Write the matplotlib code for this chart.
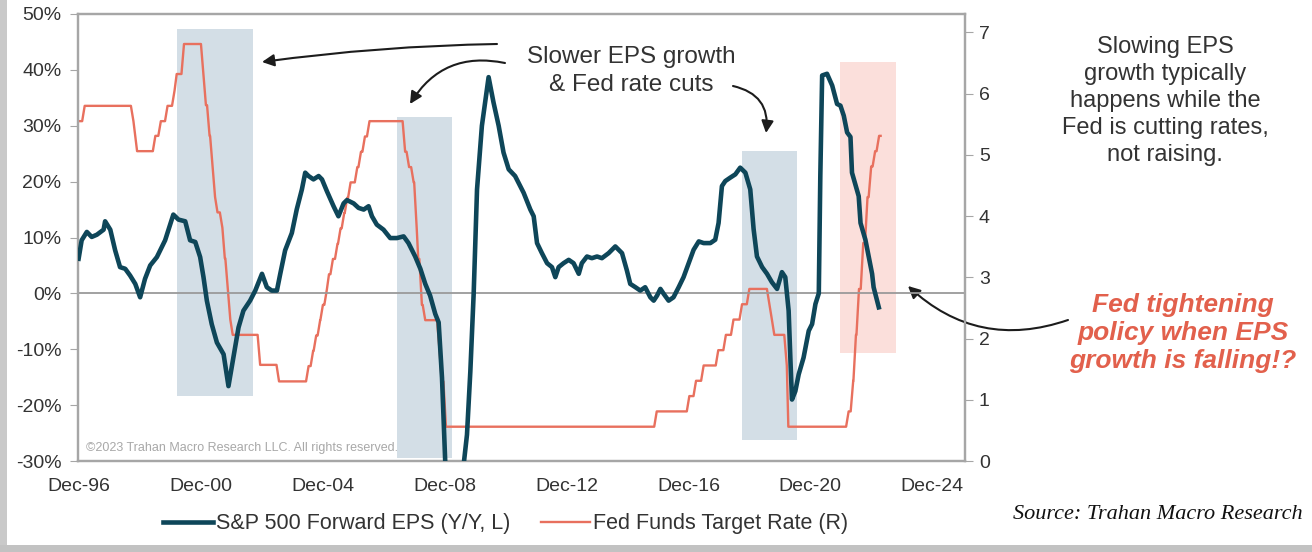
import matplotlib
matplotlib.use("Agg")
import matplotlib.pyplot as plt
from matplotlib.patches import Rectangle, FancyArrowPatch
from matplotlib.lines import Line2D

plt.rcParams["font.family"] = ["Liberation Sans", "DejaVu Sans"]

# S&P 500 forward EPS growth, Y/Y % (left axis), by decimal year
eps_years = [
    1996.90, 1997.00, 1997.17, 1997.33, 1997.50, 1997.72, 1997.77, 1997.94, 1998.10, 1998.26,
    1998.43, 1998.59, 1998.76, 1998.92, 1999.08, 1999.25, 1999.47, 1999.63, 1999.74, 1999.85,
    2000.01, 2000.18, 2000.40, 2000.56, 2000.73, 2000.89, 2001.00, 2001.11, 2001.27, 2001.44,
    2001.66, 2001.82, 2001.98, 2002.15, 2002.31, 2002.53, 2002.70, 2002.92, 2003.08, 2003.24,
    2003.41, 2003.52, 2003.68, 2003.90, 2004.06, 2004.23, 2004.34, 2004.45, 2004.61, 2004.78,
    2004.89, 2005.05, 2005.27, 2005.43, 2005.60, 2005.71, 2005.93, 2006.09, 2006.26, 2006.42,
    2006.53, 2006.69, 2006.91, 2007.13, 2007.35, 2007.57, 2007.73, 2007.95, 2008.12, 2008.28,
    2008.44, 2008.61, 2008.72, 2008.83, 2008.94, 2009.20, 2009.54, 2009.65, 2009.76, 2009.87,
    2009.98, 2010.14, 2010.36, 2010.52, 2010.69, 2010.85, 2011.02, 2011.23, 2011.51, 2011.73,
    2011.84, 2011.95, 2012.11, 2012.28, 2012.44, 2012.55, 2012.66, 2012.82, 2012.99, 2013.15,
    2013.32, 2013.42, 2013.59, 2013.75, 2013.92, 2014.08, 2014.30, 2014.52, 2014.74, 2014.90,
    2015.01, 2015.18, 2015.34, 2015.50, 2015.67, 2015.78, 2015.89, 2016.00, 2016.11, 2016.27,
    2016.43, 2016.60, 2016.76, 2016.93, 2017.09, 2017.26, 2017.42, 2017.64, 2017.80, 2017.91,
    2018.02, 2018.13, 2018.29, 2018.46, 2018.62, 2018.79, 2018.95, 2019.06, 2019.17, 2019.34,
    2019.50, 2019.66, 2019.83, 2019.99, 2020.10, 2020.21, 2020.27, 2020.32, 2020.43, 2020.54,
    2020.70, 2020.87, 2020.98, 2021.09, 2021.20, 2021.25, 2021.31, 2021.47, 2021.64, 2021.80,
    2021.91, 2022.02, 2022.13, 2022.24, 2022.29, 2022.40, 2022.51, 2022.57, 2022.73, 2022.84,
    2022.95, 2023.00, 2023.17,
]
eps_values = [
    6.2, 9.5, 11.0, 10.1, 10.5, 11.4, 12.9, 11.4, 7.7, 4.7,
    4.4, 3.2, 1.7, -0.7, 2.6, 5.0, 6.5, 8.3, 9.5, 11.4,
    14.1, 13.2, 12.9, 9.5, 9.2, 6.5, 2.9, -1.3, -5.5, -8.8,
    -10.9, -16.6, -11.5, -6.1, -3.1, -1.3, 0.5, 3.5, 1.1, 0.5,
    0.5, 3.5, 7.7, 10.8, 15.0, 18.6, 21.6, 21.0, 20.4, 21.0,
    20.4, 18.3, 15.6, 13.8, 16.1, 16.7, 16.1, 15.3, 15.0, 15.6,
    13.8, 12.3, 11.4, 9.9, 9.9, 10.2, 9.0, 6.6, 4.4, 1.7,
    -0.4, -3.7, -5.2, -15.1, -30.7, -45.0, -30.7, -25.3, -14.0, 0.0,
    18.6, 30.0, 38.7, 34.2, 30.0, 25.2, 22.2, 21.0, 18.0, 15.0,
    13.8, 9.0, 7.2, 5.4, 4.7, 2.9, 4.7, 5.4, 6.0, 5.4,
    3.5, 5.4, 6.6, 6.3, 6.6, 6.3, 7.2, 8.4, 7.2, 4.1,
    1.7, 1.1, 0.5, 1.1, -0.7, -1.3, -0.4, 0.8, -0.1, -1.3,
    -0.7, 1.1, 2.9, 5.4, 7.8, 9.3, 9.0, 9.0, 9.6, 12.6,
    19.2, 20.1, 20.7, 21.3, 22.5, 21.6, 18.6, 11.5, 6.6, 4.7,
    3.5, 2.0, 0.8, 3.8, 2.9, -3.1, -12.1, -19.0, -17.5, -14.5,
    -11.5, -6.7, -5.5, -1.9, 0.0, 21.0, 39.0, 39.3, 37.2, 33.9,
    33.6, 31.8, 28.8, 28.0, 21.6, 19.5, 17.4, 12.6, 9.6, 6.6,
    3.5, 1.1, -2.5,
]

# Fed funds target rate (right axis): date of each change and the level after it
fed_years = [
    1996.90, 1997.10, 1998.70, 1998.76, 1998.82, 1999.42, 1999.60, 1999.82, 2000.05, 2000.12,
    2000.36, 2001.00, 2001.08, 2001.20, 2001.30, 2001.38, 2001.46, 2001.62, 2001.70, 2001.80,
    2001.88, 2001.96, 2002.86, 2003.48, 2004.45, 2004.60, 2004.70, 2004.83, 2004.92, 2005.05,
    2005.12, 2005.25, 2005.40, 2005.50, 2005.62, 2005.72, 2005.83, 2006.05, 2006.17, 2006.30,
    2006.45, 2007.62, 2007.75, 2007.90, 2008.00, 2008.05, 2008.17, 2008.28, 2008.75, 2008.82,
    2008.96, 2015.88, 2016.95, 2017.17, 2017.42, 2017.90, 2018.15, 2018.40, 2018.68, 2018.92,
    2019.58, 2019.66, 2019.74, 2020.15, 2020.20, 2022.18, 2022.33, 2022.42, 2022.52, 2022.66,
    2022.80, 2022.92, 2023.05, 2023.18, 2023.23,
]
fed_levels = [
    5.55, 5.80, 5.55, 5.30, 5.06, 5.31, 5.55, 5.80, 6.05, 6.32,
    6.81, 6.31, 5.81, 5.31, 4.81, 4.31, 4.06, 3.81, 3.31, 2.81,
    2.31, 2.06, 1.57, 1.30, 1.55, 1.80, 2.05, 2.30, 2.55, 2.80,
    3.05, 3.30, 3.55, 3.80, 4.05, 4.30, 4.55, 4.80, 5.05, 5.30,
    5.55, 5.05, 4.80, 4.55, 3.80, 3.30, 2.55, 2.30, 1.80, 1.30,
    0.56, 0.81, 1.06, 1.31, 1.56, 1.81, 2.06, 2.31, 2.56, 2.81,
    2.56, 2.31, 2.06, 1.56, 0.56, 0.81, 1.31, 2.06, 2.81, 3.56,
    4.31, 4.81, 5.06, 5.31, 5.31,
]

# highlighted periods (left-axis units)
band_start = [2000.14, 2007.35, 2018.68, 2021.91]
band_end = [2002.62, 2009.15, 2020.49, 2023.75]
band_low = [-18.4, -29.5, -26.2, -10.6]
band_high = [47.3, 31.5, 25.5, 41.4]
band_colors = ["#d3dee6", "#d3dee6", "#d3dee6", "#fbdfdb"]

tick_years = [1996.92, 2000.92, 2004.92, 2008.92, 2012.92, 2016.92, 2020.92, 2024.92]
tick_labels = ["Dec-96", "Dec-00", "Dec-04", "Dec-08", "Dec-12", "Dec-16", "Dec-20", "Dec-24"]

DARK = "#0e4659"
RED = "#e8705e"
GREY = "#a6a6a6"
TXT = "#333333"

W, H = 1312, 552


def fp(px, py):
    # pixel position (from top-left) -> figure fraction
    return px / W, 1 - py / H


# monthly-style path: each rate change takes one month to show up
fed_x, fed_y = [fed_years[0]], [fed_levels[0]]
for i in range(1, len(fed_years)):
    fed_x.append(max(fed_years[i] - 1 / 12, fed_years[i - 1]))
    fed_y.append(fed_levels[i - 1])
    fed_x.append(fed_years[i])
    fed_y.append(fed_levels[i])

fig = plt.figure(figsize=(W / 100, H / 100), dpi=100)
fig.patch.set_facecolor("white")

ax = fig.add_axes([78 / W, 1 - 461 / H, (965 - 78) / W, (461 - 14) / H])
ax2 = ax.twinx()
ax.set_zorder(ax2.get_zorder() + 1)
ax.patch.set_visible(False)

for x0, x1, lo, hi, c in zip(band_start, band_end, band_low, band_high, band_colors):
    ax2.add_patch(Rectangle((x0, lo), x1 - x0, hi - lo, transform=ax.transData,
                            facecolor=c, edgecolor="none", zorder=0))

ax2.plot(fed_x, fed_y, color=RED, lw=1.7, zorder=2)
ax.axhline(0, color="#9a9a9a", lw=1.3, zorder=2)
ax.plot(eps_years, eps_values, color=DARK, lw=3.3, solid_joinstyle="round", zorder=3)

ax.set_xlim(1996.88, 2026.0)
ax.set_ylim(-30, 50)
ax2.set_ylim(0, 7.3)

ax.set_xticks(tick_years)
ax.set_xticklabels(tick_labels)
ax.set_yticks(range(-30, 51, 10))
ax.set_yticklabels([f"{v}%" for v in range(-30, 51, 10)])
ax2.set_yticks(range(0, 8))

ax.tick_params(axis="x", length=0, pad=12, labelsize=14, labelcolor=TXT)
ax.tick_params(axis="y", direction="out", length=6, color=GREY, pad=6, labelsize=14, labelcolor=TXT)
ax2.tick_params(axis="y", direction="out", length=6, color=GREY, pad=4, labelsize=14, labelcolor=TXT)
for a in (ax, ax2):
    for s in a.spines.values():
        s.set_color(GREY)
        s.set_linewidth(1.6)

ax.text(0.009, 0.028, "\u00a92023 Trahan Macro Research LLC. All rights reserved.",
        transform=ax.transAxes, fontsize=9, color="#a8a8a8", va="center")

handles = [Line2D([], [], color=DARK, lw=3.3), Line2D([], [], color=RED, lw=1.7)]
fig.legend(handles, ["S&P 500 Forward EPS (Y/Y, L)", "Fed Funds Target Rate (R)"],
           loc="center", bbox_to_anchor=fp(506, 524), ncol=2, frameon=False,
           fontsize=15.5, handlelength=2.3, handletextpad=0.15, columnspacing=1.4,
           labelcolor=TXT)

fig.text(*fp(631, 71), "Slower EPS growth\n& Fed rate cuts", fontsize=17.5, color=TXT,
         ha="center", va="center", linespacing=1.3)
fig.text(*fp(1165, 101), "Slowing EPS\ngrowth typically\nhappens while the\nFed is cutting rates,\nnot raising.",
         fontsize=17, color=TXT, ha="center", va="center", linespacing=1.3)
fig.text(*fp(1183, 333), "Fed tightening\npolicy when EPS\ngrowth is falling!?", fontsize=19,
         color="#e2604c", fontweight="bold", fontstyle="italic", ha="center", va="center",
         linespacing=1.2)
fig.text(*fp(1013, 519), "Source: Trahan Macro Research", fontsize=16, fontstyle="italic",
         family=["Liberation Serif", "DejaVu Serif"], color="#111111", va="baseline")

arrow = dict(arrowstyle="-|>", color="#1c1c1c", lw=1.5, mutation_scale=18, shrinkA=0, shrinkB=0)
fig_arrows = [
    ((497, 44), (262, 62), 0.03),
    ((505, 63), (410, 104), 0.35),
    ((733, 86), (766, 133), -0.45),
    ((1068, 320), (908, 286), -0.3),
]
for (sx, sy), (ex, ey), rad in fig_arrows:
    fig.add_artist(FancyArrowPatch(fp(sx, sy), fp(ex, ey), transform=fig.transFigure,
                                   connectionstyle=f"arc3,rad={rad}", **arrow))

# picture frame edges
fig.add_artist(Rectangle((0, 0), 7 / W, 1, transform=fig.transFigure,
                         facecolor="#c9c9c9", edgecolor="none"))
fig.add_artist(Rectangle((0, 0), 1, 7 / H, transform=fig.transFigure,
                         facecolor="#c2c2c2", edgecolor="none"))

fig.savefig("out.png", dpi=100)
